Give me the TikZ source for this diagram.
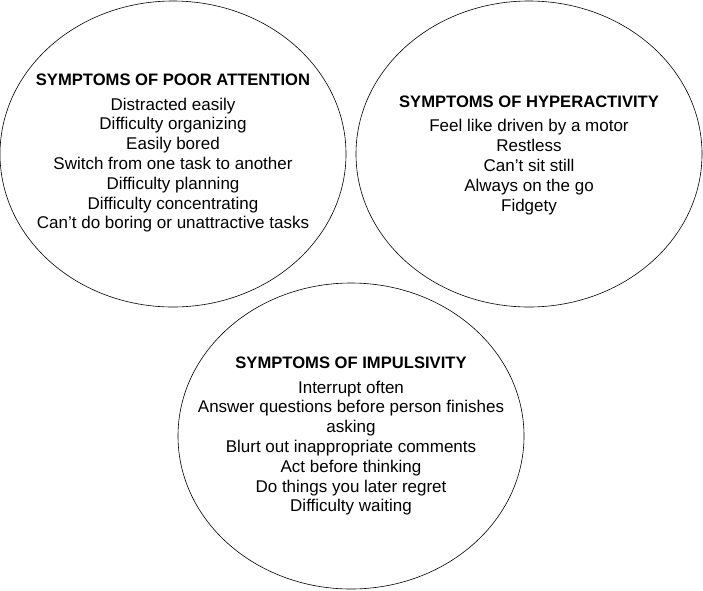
\documentclass[tikz,border=0pt]{standalone}
\usepackage{fontspec}
\setmainfont{Liberation Sans}
\usetikzlibrary{shapes.geometric, positioning}

\newcommand{\symptomhead}[1]{{\bfseries\fontsize{16.6}{19.8}\selectfont #1}}

\begin{document}
\begin{tikzpicture}[x=1pt, y=-1pt,
  ring/.style={draw, ellipse, line width=0.6pt, inner sep=0pt,
               minimum width=346pt, minimum height=306pt},
  symptoms/.style={align=center, inner sep=0pt,
                   font=\fontsize{17}{19.8}\selectfont}]

  \useasboundingbox (0,0) rectangle (703,590);

  \node[ring] (attention)     at (173,154) {};
  \node[ring] (hyperactivity) at (529,154) {};
  \node[ring] (impulsivity)   at (351,436) {};

  \node[symptoms] (attentionText) at ([yshift=1pt]attention.center)
    {\symptomhead{SYMPTOMS OF POOR ATTENTION}\\[5pt]
     Distracted easily\\
     Difficulty organizing\\
     Easily bored\\
     Switch from one task to another\\
     Difficulty planning\\
     Difficulty concentrating\\
     Can’t do boring or unattractive tasks};

  \node[symptoms] (hyperactivityText) at ([yshift=-1pt]hyperactivity.center)
    {\symptomhead{SYMPTOMS OF HYPERACTIVITY}\\[5pt]
     Feel like driven by a motor\\
     Restless\\
     Can’t sit still\\
     Always on the go\\
     Fidgety};

  \node[symptoms] (impulsivityText) at (impulsivity.center)
    {\symptomhead{SYMPTOMS OF IMPULSIVITY}\\[5pt]
     Interrupt often\\
     Answer questions before person finishes\\
     asking\\
     Blurt out inappropriate comments\\
     Act before thinking\\
     Do things you later regret\\
     Difficulty waiting};
\end{tikzpicture}
\end{document}
